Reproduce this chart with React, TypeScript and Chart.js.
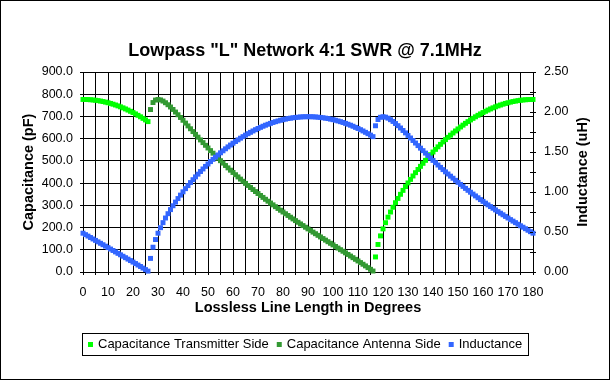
import React, { useEffect, useRef } from "react";
import { Chart, registerables } from "chart.js";

Chart.register(...registerables);

const CHART_TITLE = 'Lowpass "L" Network 4:1 SWR @ 7.1MHz';
const X_TITLE = "Lossless Line Length in Degrees";
const Y_TITLE = "Capacitance (pF)";
const Y2_TITLE = "Inductance (uH)";
const SERIES_NAMES = ["Capacitance Transmitter Side", "Capacitance Antenna Side", "Inductance"];
const SERIES_COLORS = ["#00FF00", "#339933", "#3366FF"];

// Capacitance, transmitter side (pF), degrees 0..26
const capTxLowStart = 0;
const capTxLow = [
  776.5, 776.3, 775.9, 775.2, 774.1, 772.8, 771.2, 769.2, 767.0, 764.5,
  761.7, 758.6, 755.2, 751.5, 747.5, 743.3, 738.7, 733.8, 728.7, 723.2,
  717.5, 711.4, 705.1, 698.4, 691.4, 684.3, 676.8,
];
// Capacitance, transmitter side (pF), degrees 117..180
const capTxHighStart = 117;
const capTxHigh = [
  67.8, 124.0, 162.5, 194.1, 221.8, 246.8, 269.9, 291.4, 311.8, 331.1,
  349.6, 367.3, 384.4, 400.8, 416.7, 432.1, 447.0, 461.5, 475.5, 489.1,
  502.4, 515.3, 527.8, 539.9, 551.8, 563.3, 574.4, 585.3, 595.8, 606.0,
  615.9, 625.5, 634.8, 643.8, 652.5, 660.9, 669.0, 676.8, 684.3, 691.4,
  698.4, 705.1, 711.4, 717.5, 723.2, 728.7, 733.8, 738.7, 743.3, 747.5,
  751.5, 755.2, 758.6, 761.7, 764.5, 767.0, 769.2, 771.2, 772.8, 774.1,
  775.2, 775.9, 776.3, 776.5,
];
// Capacitance, antenna side (pF), degrees 27..116
const capAntStart = 27;
const capAnt = [
  731.1, 762.5, 773.7, 776.5, 774.4, 769.2, 761.7, 752.7, 742.5, 731.5,
  719.8, 707.7, 695.4, 682.8, 670.1, 657.4, 644.6, 631.9, 619.3, 606.8,
  594.4, 582.2, 570.1, 558.1, 546.3, 534.7, 523.3, 512.0, 500.9, 490.0,
  479.2, 468.6, 458.2, 447.9, 437.8, 427.9, 418.0, 408.4, 398.8, 389.5,
  380.2, 371.0, 362.0, 353.2, 344.4, 335.7, 327.2, 318.7, 310.4, 302.1,
  293.9, 285.9, 277.9, 269.9, 262.1, 254.3, 246.6, 238.9, 231.3, 223.8,
  216.3, 208.9, 201.5, 194.1, 186.8, 179.5, 172.3, 165.0, 157.8, 150.6,
  143.5, 136.3, 129.2, 122.0, 114.9, 107.7, 100.5, 93.4, 86.2, 78.9,
  71.7, 64.4, 57.1, 49.7, 42.4, 34.9, 27.4, 19.8, 12.1, 4.4,
];
// Inductance (uH), degrees 0..180
const inductanceStart = 0;
const inductance = [
  0.485, 0.467, 0.449, 0.431, 0.413, 0.395, 0.377, 0.359, 0.341, 0.323,
  0.305, 0.287, 0.269, 0.251, 0.233, 0.215, 0.197, 0.179, 0.161, 0.143,
  0.124, 0.106, 0.087, 0.069, 0.049, 0.030, 0.011,
  0.170, 0.310, 0.406, 0.485, 0.554, 0.617, 0.675, 0.729, 0.780, 0.828,
  0.874, 0.918, 0.961, 1.002, 1.042, 1.080, 1.118, 1.154, 1.189, 1.223,
  1.256, 1.288, 1.320, 1.350, 1.380, 1.408, 1.436, 1.463, 1.490, 1.515,
  1.540, 1.564, 1.587, 1.610, 1.631, 1.652, 1.673, 1.692, 1.711, 1.729,
  1.746, 1.763, 1.779, 1.794, 1.808, 1.822, 1.835, 1.847, 1.858, 1.869,
  1.879, 1.888, 1.897, 1.904, 1.911, 1.918, 1.923, 1.928, 1.932, 1.935,
  1.938, 1.940, 1.941, 1.941,
  1.941, 1.940, 1.938, 1.935, 1.932, 1.928, 1.923, 1.918, 1.911, 1.904,
  1.897, 1.888, 1.879, 1.869, 1.858, 1.847, 1.835, 1.822, 1.808, 1.794,
  1.779, 1.763, 1.746, 1.729, 1.711, 1.692,
  1.828, 1.906, 1.934, 1.941, 1.936, 1.923, 1.904, 1.882, 1.856, 1.829,
  1.800, 1.769, 1.739, 1.707, 1.675, 1.644, 1.612, 1.580, 1.548, 1.517,
  1.486, 1.456, 1.425, 1.395, 1.366, 1.337, 1.308, 1.280, 1.252, 1.225,
  1.198, 1.172, 1.146, 1.120, 1.095, 1.070, 1.045, 1.021, 0.997, 0.974,
  0.951, 0.928, 0.905, 0.883, 0.861, 0.839, 0.818, 0.797, 0.776, 0.755,
  0.735, 0.715, 0.695, 0.675, 0.655, 0.636, 0.617, 0.597, 0.578, 0.560,
  0.541, 0.522, 0.504, 0.485,
];

const X_MIN = 0, X_MAX = 180, X_STEP = 5, X_LABEL_STEP = 10;
const Y_MIN = 0, Y_MAX = 900, Y_STEP = 100;
const Y2_MIN = 0, Y2_MAX = 2.5, Y2_STEP = 0.25, Y2_LABEL_STEP = 0.5;

const FONT = '"Liberation Sans", Arial, sans-serif';

const toPoints = (start: number, vals: number[]) => vals.map((v, i) => ({ x: start + i, y: v }));

const decorPlugin = {
  id: "decor",
  beforeDraw(chart: any) {
    const ctx = chart.ctx;
    ctx.save();
    ctx.fillStyle = "#fff";
    ctx.fillRect(0, 0, chart.width, chart.height);
    ctx.restore();
  },
  afterDraw(chart: any) {
    const ctx = chart.ctx;
    const ca = chart.chartArea;
    ctx.save();
    ctx.strokeStyle = "#000";
    ctx.fillStyle = "#000";
    ctx.lineWidth = 1;
    // outer frame
    ctx.strokeRect(0.5, 0.5, 609, 379);

    // right axis inward ticks
    const y2 = chart.scales.y2;
    ctx.beginPath();
    for (let v = Y2_MIN; v <= Y2_MAX + 1e-9; v += Y2_STEP) {
      const py = Math.round(y2.getPixelForValue(v)) + 0.5;
      ctx.moveTo(Math.round(ca.right) - 3, py);
      ctx.lineTo(Math.round(ca.right), py);
    }
    ctx.stroke();

    // chart title
    ctx.textAlign = "center";
    ctx.textBaseline = "alphabetic";
    ctx.font = `bold 18px ${FONT}`;
    ctx.fillText(CHART_TITLE, 305, 56);

    // axis titles
    ctx.font = `bold 14.5px ${FONT}`;
    ctx.fillText(X_TITLE, (ca.left + ca.right) / 2, 312);
    const midY = (ca.top + ca.bottom) / 2;
    ctx.textBaseline = "middle";
    ctx.save();
    ctx.translate(29, midY);
    ctx.rotate(-Math.PI / 2);
    ctx.fillText(Y_TITLE, 0, 0);
    ctx.restore();
    ctx.save();
    ctx.translate(583, midY);
    ctx.rotate(-Math.PI / 2);
    ctx.fillText(Y2_TITLE, 0, 0);
    ctx.restore();

    // legend
    ctx.font = `13px ${FONT}`;
    ctx.textAlign = "left";
    ctx.textBaseline = "alphabetic";
    const sq = 5, gapText = 5, gapItem = 8, pad = 6;
    const widths = SERIES_NAMES.map((n) => ctx.measureText(n).width);
    let total = pad * 2;
    widths.forEach((w, i) => {
      total += sq + gapText + w + (i < widths.length - 1 ? gapItem : 0);
    });
    const x0 = Math.round(305 - total / 2);
    ctx.strokeRect(x0 + 0.5, 333.5, Math.round(total), 22);
    let x = x0 + pad;
    SERIES_NAMES.forEach((n, i) => {
      ctx.fillStyle = SERIES_COLORS[i];
      ctx.fillRect(x, 342, sq, sq);
      x += sq + gapText;
      ctx.fillStyle = "#000";
      ctx.fillText(n, x, 348);
      x += widths[i] + gapItem;
    });
    ctx.restore();
  },
};

export default function App() {
  const ref = useRef<HTMLCanvasElement | null>(null);
  useEffect(() => {
    document.body.style.margin = "0";
    if (!ref.current) return;
    Chart.defaults.font.family = FONT;
    Chart.defaults.color = "#000";
    const mk = (label: string, color: string, data: any[], yAxisID: string, order: number) => ({
      label,
      data,
      yAxisID,
      order,
      showLine: false,
      pointStyle: "rect",
      pointRadius: 3.5,
      pointHoverRadius: 3.5,
      pointBorderWidth: 0,
      backgroundColor: color,
      borderColor: color,
      clip: false,
    });
    const chart = new Chart(ref.current, {
      type: "scatter",
      data: {
        datasets: [
          mk(SERIES_NAMES[0], SERIES_COLORS[0], [...toPoints(capTxLowStart, capTxLow), ...toPoints(capTxHighStart, capTxHigh)], "y", 3),
          mk(SERIES_NAMES[1], SERIES_COLORS[1], toPoints(capAntStart, capAnt), "y", 2),
          mk(SERIES_NAMES[2], SERIES_COLORS[2], toPoints(inductanceStart, inductance), "y2", 1),
        ] as any,
      },
      plugins: [decorPlugin],
      options: {
        responsive: false,
        animation: false,
        devicePixelRatio: 1,
        events: [],
        layout: { padding: { left: 0, right: 0, top: 72, bottom: 0 } },
        plugins: {
          legend: { display: false },
          title: { display: false },
          tooltip: { enabled: false },
        },
        scales: {
          x: {
            type: "linear",
            min: X_MIN,
            max: X_MAX,
            afterFit: (s: any) => { s.height = 109; },
            ticks: {
              stepSize: X_STEP,
              autoSkip: false,
              maxRotation: 0,
              padding: 10,
              font: { size: 12.5, family: FONT },
              color: "#000",
              callback: (v: any) => (Number(v) % X_LABEL_STEP === 0 ? String(v) : ""),
            },
            grid: { color: "#000", lineWidth: 1, tickLength: 3 },
            border: { color: "#000", width: 1 },
          },
          y: {
            type: "linear",
            position: "left",
            min: Y_MIN,
            max: Y_MAX,
            afterFit: (s: any) => { s.width = 83; },
            ticks: {
              stepSize: Y_STEP,
              padding: 7,
              font: { size: 12.5, family: FONT },
              color: "#000",
              callback: (v: any) => Number(v).toFixed(1),
            },
            grid: { color: "#000", lineWidth: 1, tickLength: 3 },
            border: { color: "#000", width: 1 },
          },
          y2: {
            type: "linear",
            position: "right",
            min: Y2_MIN,
            max: Y2_MAX,
            afterFit: (s: any) => { s.width = 78; },
            ticks: {
              stepSize: Y2_STEP,
              padding: 8,
              font: { size: 12.5, family: FONT },
              color: "#000",
              callback: (v: any) => (Math.round(Number(v) * 100) % Math.round(Y2_LABEL_STEP * 100) === 0 ? Number(v).toFixed(2) : ""),
            },
            grid: { drawOnChartArea: false, color: "#000", lineWidth: 1, tickLength: 3 },
            border: { color: "#000", width: 1 },
          },
        },
      } as any,
    });
    return () => chart.destroy();
  }, []);
  return (
    <div style={{ width: 611, height: 381 }}>
      <canvas ref={ref} width={611} height={381} style={{ display: "block" }} />
    </div>
  );
}
